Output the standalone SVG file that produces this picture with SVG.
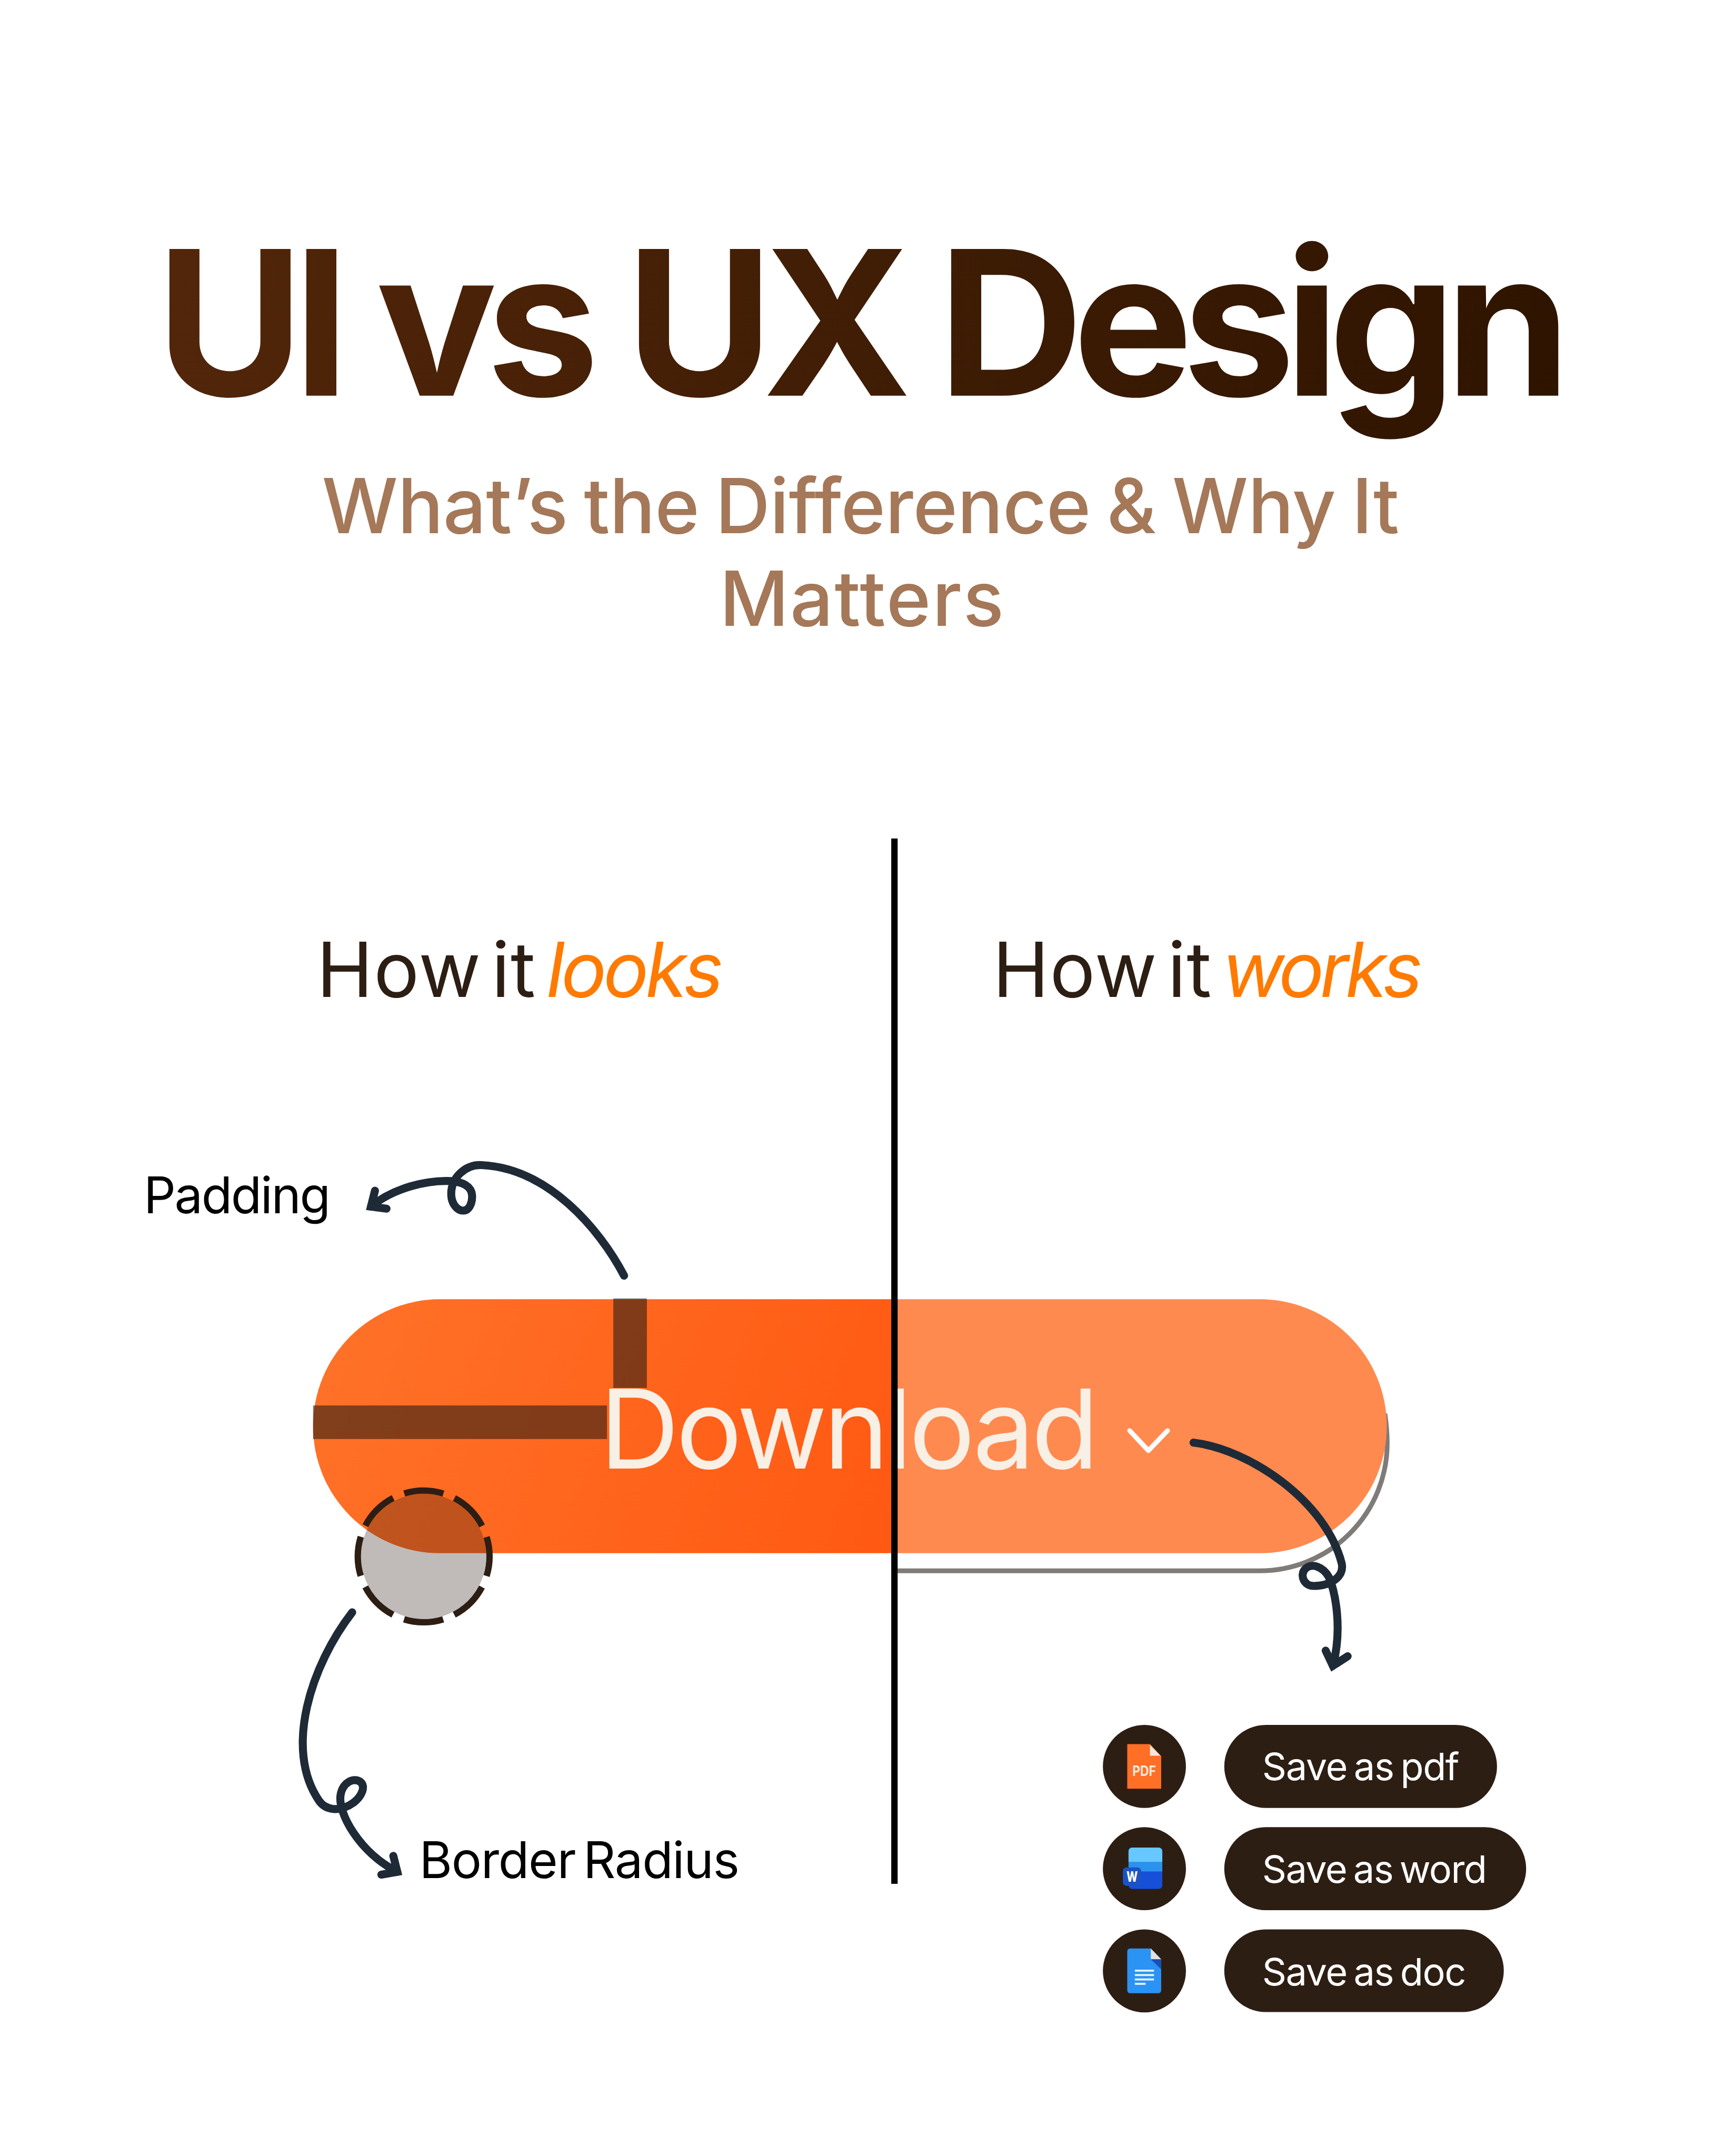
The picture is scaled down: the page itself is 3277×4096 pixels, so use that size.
<svg xmlns="http://www.w3.org/2000/svg" width="3277" height="4096" viewBox="0 0 3277 4096">
<defs>
<linearGradient id="titleGrad" gradientUnits="userSpaceOnUse" x1="419" y1="624" x2="3905" y2="1100"><stop offset="0" stop-color="#52260a"/><stop offset="1" stop-color="#2e1400"/></linearGradient>
<linearGradient id="btnGrad" gradientUnits="userSpaceOnUse" x1="784" y1="3300" x2="2232" y2="3850"><stop offset="0" stop-color="#FF7229"/><stop offset="1" stop-color="#FF5912"/></linearGradient>
<clipPath id="wordClip"><rect x="2826" y="4627" width="85" height="104" rx="10"/></clipPath>
</defs>
<style>
text{font-family:"Inter","Liberation Sans",sans-serif}
.arrow{fill:none;stroke:#1f2a37;stroke-width:20;stroke-linecap:round;stroke-linejoin:round}
.head{fill:none;stroke:#1f2a37;stroke-width:20;stroke-linecap:round;stroke-linejoin:miter;stroke-miterlimit:8}
.sub{font-size:190px;font-weight:450;fill:#A47858;word-spacing:-10px}
.how{font-size:190px;font-weight:400;fill:#2d1e14;word-spacing:-30px}
.how2{font-size:190px;font-weight:400;font-style:italic;fill:#FF7A00}
.lab{font-size:126px;font-weight:400;fill:#000;word-spacing:-14px}
.pilltext{font-size:95px;font-weight:400;fill:#fff;word-spacing:-8px}
.dark{fill:#2d1e14}
.bar{fill:#2d1e14;fill-opacity:.6}
</style>
<rect width="3277" height="4096" fill="#fff"/>
<g transform="scale(0.758565)">
<g id="title"><text x="391" y="991" font-size="505" font-weight="650" fill="url(#titleGrad)" textLength="3543">UI vs UX Design</text></g>
<g id="subtitle">
<text class="sub" x="806" y="1336" textLength="2698">What’s the Difference &amp; Why It</text>
<text class="sub" x="1802" y="1567" textLength="712">Matters</text>
</g>
<g id="heading-left"><text class="how" x="793" y="2497" textLength="548">How it</text><text class="how2" x="1368" y="2497" textLength="444">looks</text></g>
<g id="heading-right"><text class="how" x="2486" y="2497" textLength="548">How it</text><text class="how2" x="3061" y="2497" textLength="502">works</text></g>
<g id="button">
<path d="M2248 3934 H3155 A319 319 0 0 0 3474 3615 Q3474 3580 3468 3540" fill="none" stroke="#7F7B78" stroke-width="12"/>
<path d="M2232 3254 H1102 A318 318 0 0 0 1102 3890 H2232Z" fill="url(#btnGrad)"/>
<path d="M2232 3254 H3155 A318 318 0 0 1 3155 3890 H2232Z" fill="#FF8A50"/>
</g>
<g id="padding-bars"><rect class="bar" x="1536" y="3252" width="84" height="224"/><rect class="bar" x="784" y="3520" width="736" height="84"/></g>
<g id="radius-marker"><circle cx="1061" cy="3898" r="157" fill="#2d1e14" fill-opacity=".3"/><circle cx="1061" cy="3898" r="165" fill="none" stroke="#2d1e14" stroke-width="16" stroke-dasharray="99.6 30" stroke-dashoffset="49.8"/></g>
<g id="download"><text x="1502" y="3678" font-size="276" font-weight="400" fill="#F8EFE5" textLength="1250">Download</text>
<path d="M2829 3583 L2876 3633 L2924 3583" fill="none" stroke="#fff" stroke-width="12" stroke-linecap="round" stroke-linejoin="round"/></g>
<g id="divider"><rect x="2232" y="2100" width="16" height="2618" fill="#000"/></g>
<g id="label-padding"><text class="lab" x="360" y="3038" textLength="468">Padding</text></g>
<g id="label-radius"><text class="lab" x="1050" y="4703" textLength="802">Border Radius</text></g>
<g id="connectors">
<path class="arrow" d="M1563 3195 C1500 3075 1370 2925 1206 2918 C1165 2916 1130 2950 1130 2990 C1130 3015 1145 3032 1160 3032 C1175 3032 1184 3012 1182 2992 C1180 2972 1160 2960 1130 2958 C1070 2955 985 2975 929 3022"/>
<path class="head" d="M939 2982 L929 3022 L968 3027"/>
<path class="arrow" d="M2989 3613 C3130 3630 3320 3760 3360 3915 C3368 3950 3330 3972 3290 3972 C3265 3972 3255 3945 3268 3930 C3285 3912 3315 3925 3328 3950 C3345 3990 3362 4080 3338 4172"/>
<path class="head" d="M3320 4134 L3338 4172 L3375 4148"/>
<path class="arrow" d="M882 4038 C780 4170 710 4380 799 4510 C815 4533 850 4540 885 4515 C905 4500 917 4475 903 4463 C885 4450 858 4465 853 4495 C845 4540 900 4640 995 4688"/>
<path class="head" d="M985 4648 L995 4688 L955 4695"/>
</g>
<g id="icon-pdf"><circle class="dark" cx="2866" cy="4424" r="104"/>
<path d="M2823 4368 H2880 L2908 4398 V4480 H2823Z" fill="#FF6F26"/><path d="M2880 4370 L2906 4397 H2880Z" fill="#F5E8DF"/>
<text x="2836" y="4448" font-size="36" font-weight="700" fill="#F8E8DC" textLength="59" lengthAdjust="spacingAndGlyphs">PDF</text></g>
<g id="pill-pdf"><rect class="dark" x="3066" y="4320" width="683" height="208" rx="104"/><text class="pilltext" x="3161" y="4459" textLength="494">Save as pdf</text></g>
<g id="icon-word"><circle class="dark" cx="2866" cy="4680" r="104"/>
<g clip-path="url(#wordClip)"><rect x="2826" y="4627" width="85" height="104" fill="#1650D8"/><rect x="2826" y="4627" width="85" height="60" fill="#2B93EE"/><rect x="2826" y="4627" width="85" height="36" fill="#66C8FF"/></g>
<rect x="2812" y="4677" width="46" height="46" rx="9" fill="#1B52C4"/><text x="2821" y="4713" font-size="36" font-weight="800" fill="#fff" textLength="28" lengthAdjust="spacingAndGlyphs">W</text></g>
<g id="pill-word"><rect class="dark" x="3066" y="4576" width="756" height="208" rx="104"/><text class="pilltext" x="3161" y="4715" textLength="563">Save as word</text></g>
<g id="icon-doc"><circle class="dark" cx="2866" cy="4936" r="104"/>
<path d="M2831 4880 H2882 L2908 4907 V4984 Q2908 4992 2900 4992 H2831 Q2823 4992 2823 4984 V4888 Q2823 4880 2831 4880Z" fill="#2A93F3"/><path d="M2882 4880 L2908 4907 H2882Z" fill="#E0E0E0"/><path d="M2882 4907 H2908 V4932Z" fill="#1A4FB8"/>
<g fill="#E4F1FC"><rect x="2842" y="4933" width="48" height="5"/><rect x="2842" y="4944" width="48" height="5"/><rect x="2842" y="4955" width="48" height="5"/><rect x="2842" y="4966" width="27" height="5"/></g></g>
<g id="pill-doc"><rect class="dark" x="3066" y="4832" width="700" height="207" rx="103.5"/><text class="pilltext" x="3161" y="4972" textLength="511">Save as doc</text></g>
</g>
</svg>
